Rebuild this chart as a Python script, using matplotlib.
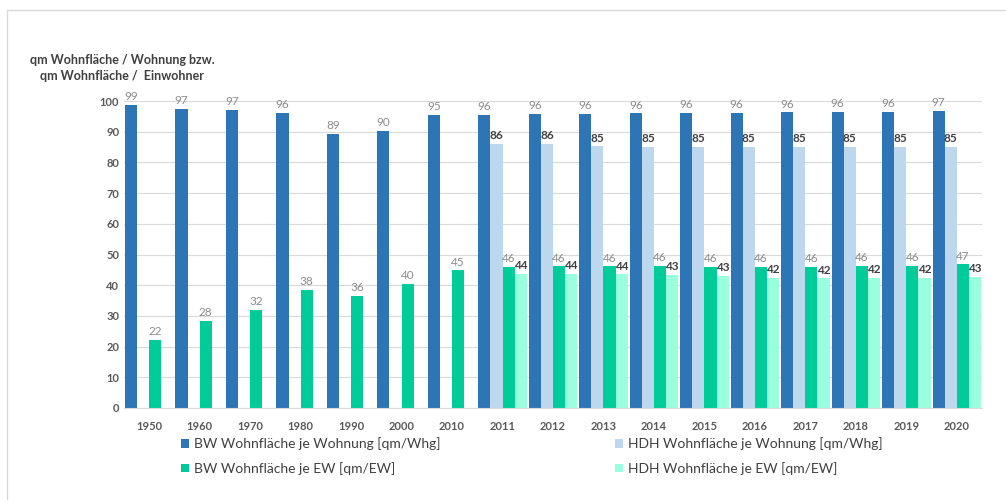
import numpy as np
import matplotlib.pyplot as plt
from matplotlib.patches import Rectangle

plt.rcParams['font.family'] = ['Lato', 'DejaVu Sans']

years = ['1950', '1960', '1970', '1980', '1990', '2000', '2010',
         '2011', '2012', '2013', '2014', '2015', '2016', '2017', '2018',
         '2019', '2020']
hdh_years = years[7:]

# BW = Baden-Wuerttemberg, HDH = Heidenheim
bw_whg = [98.8, 97.4, 97.1, 96.1, 89.3, 90.2, 95.4, 95.6, 95.8, 95.9,
          96.0, 96.1, 96.2, 96.3, 96.4, 96.5, 96.7]
bw_ew = [22.1, 28.3, 31.9, 38.4, 36.4, 40.4, 44.8, 45.9, 46.1, 46.1,
         46.2, 46.0, 45.9, 46.0, 46.2, 46.3, 46.8]
hdh_whg = [86.1, 86.0, 85.2, 85.1, 85.0, 85.0, 85.0, 85.0, 85.0, 85.0]
hdh_ew = [43.7, 43.6, 43.5, 43.4, 43.0, 42.4, 42.2, 42.3, 42.4, 42.7]

labels = ['BW Wohnfläche je Wohnung [qm/Whg]',
          'BW Wohnfläche je EW [qm/EW]',
          'HDH Wohnfläche je Wohnung [qm/Whg]',
          'HDH Wohnfläche je EW [qm/EW]']
colors = ['#2E75B6', '#00CC99', '#BDD7EE', '#99FFDD']

fig = plt.figure(figsize=(10.06, 5.0), dpi=100)
ax = fig.add_axes([124 / 1006, 1 - 408 / 500, (982 - 124) / 1006, (408 - 101) / 500])

# chart frame (light border, partly cut off by the image edge)
fig.patches.append(Rectangle((7 / 1006, -0.1), 1.2, 1 - 10 / 500 + 0.1,
                             transform=fig.transFigure, fill=False,
                             edgecolor='#D9D9D9', linewidth=1.0))

x = np.arange(len(years))
xh = np.arange(7, len(years))
w = 0.24

b1 = ax.bar(x - 1.5 * w, bw_whg, w, color=colors[0], label=labels[0])
b3 = ax.bar(xh - 0.5 * w, hdh_whg, w, color=colors[2], label=labels[2])
b2 = ax.bar(x + 0.5 * w, bw_ew, w, color=colors[1], label=labels[1])
b4 = ax.bar(xh + 1.5 * w, hdh_ew, w, color=colors[3], label=labels[3])

for bars in (b1, b2):
    ax.bar_label(bars, fmt='%.0f', padding=2, fontsize=8.5, color='#8C8C8C')
for bars in (b3, b4):
    ax.bar_label(bars, fmt='%.0f', padding=2, fontsize=8.5, color='#404040',
                 fontweight='bold')

ax.set_xlim(-0.5, len(years) - 0.5)
ax.set_ylim(0, 100)
ax.set_yticks(range(0, 101, 10))
ax.set_xticks(x)
ax.set_xticklabels(years)
ax.tick_params(axis='both', length=0, labelsize=8, colors='#595959')
ax.tick_params(axis='x', pad=9)
for t in ax.get_xticklabels() + ax.get_yticklabels():
    t.set_fontweight('bold')
ax.grid(axis='y', color='#D9D9D9', linewidth=0.8)
ax.set_axisbelow(True)
for s in ['top', 'right', 'left']:
    ax.spines[s].set_visible(False)
ax.spines['bottom'].set_color('#D9D9D9')

fig.text(122 / 1006, 1 - 68 / 500,
         'qm Wohnfläche / Wohnung bzw.\nqm Wohnfläche /  Einwohner',
         ha='center', va='center', multialignment='center', fontsize=9,
         fontweight='bold', color='#404040', linespacing=1.35)

handles = [b1, b2, b3, b4]
fig.legend(handles, labels, ncol=2, loc='upper left',
           bbox_to_anchor=(170 / 1006, 1 - 426 / 500), frameon=False,
           fontsize=10, labelcolor='#404040', handlelength=0.6,
           handleheight=0.6, handletextpad=0.3, columnspacing=12.6,
           labelspacing=0.85, borderpad=0.3)

fig.savefig('out.png', dpi=100)
